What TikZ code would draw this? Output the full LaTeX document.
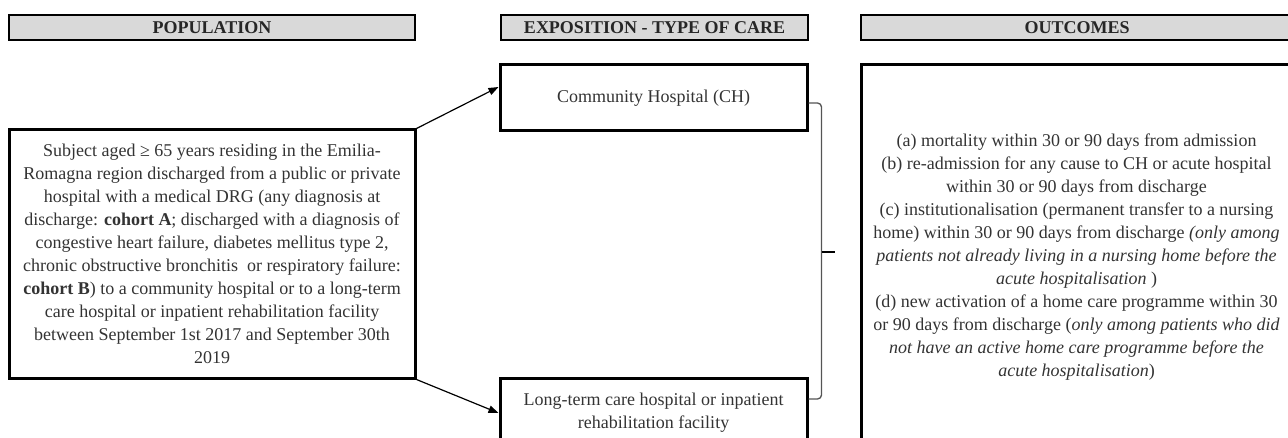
\documentclass[tikz,border=0pt]{standalone}
\usepackage{fontspec}
\setmainfont{Liberation Serif}
\usetikzlibrary{arrows.meta}
\definecolor{txtgray}{HTML}{333333}
\definecolor{hdrgray}{HTML}{D9D9D9}
\definecolor{brkgray}{HTML}{555555}
\begin{document}
\begin{tikzpicture}[x=0.75pt,y=-0.75pt,
  every node/.style={font=\fontsize{13.5}{17.25}\selectfont},
  header/.style={draw,line width=1.5pt,fill=hdrgray,minimum height=18.75pt,
    inner sep=0pt,text=black!85,font=\fontsize{13.5}{17.25}\selectfont\bfseries},
  box/.style={draw,line width=2.25pt,text=txtgray,align=center,inner sep=0pt},
  link/.style={-{Triangle[length=7.5pt,width=5.5pt]},line width=0.9pt},
  brace/.style={draw=brkgray,line width=1pt,rounded corners=3pt}]
\useasboundingbox (0,0) rectangle (1288,438);
% column headers
\node [header,minimum width=304.5pt] (hpop) at (212,27.5) {POPULATION};
\node [header,minimum width=230.25pt] (hexp) at (654.5,27.5) {EXPOSITION - TYPE OF CARE};
\node [header,minimum width=324pt] (hout) at (1077,27.5) {OUTCOMES};
% population
\node [box,minimum width=304.5pt,minimum height=186pt] (pop) at (212,254)
  {Subject aged ≥ 65 years residing in the Emilia-\\
   Romagna region discharged from a public or private\\
   hospital with a medical DRG (any diagnosis at\\
   discharge: \textbf{cohort A}; discharged with a diagnosis of\\
   congestive heart failure, diabetes mellitus type 2,\\
   chronic obstructive bronchitis\ \ or respiratory failure:\\
   \textbf{cohort B}) to a community hospital or to a long-term\\
   care hospital or inpatient rehabilitation facility\\
   between September 1st 2017 and September 30th\\
   2019};
% type of care
\node [box,minimum width=230.25pt,minimum height=49.5pt] (ch) at (653.5,98)
  {Community Hospital (CH)};
\node [box,minimum width=230.25pt,minimum height=52.5pt] (lt) at (653.5,413)
  {Long-term care hospital or inpatient\\ rehabilitation facility};
% outcomes
\node [box,minimum width=323.25pt,minimum height=288pt] (out) at (1076.5,257)
  {(a) mortality within 30 or 90 days from admission\\
   (b) re-admission for any cause to CH or acute hospital\\
   within 30 or 90 days from discharge\\
   (c) institutionalisation (permanent transfer to a nursing\\
   home) within 30 or 90 days from discharge \textit{(only among}\\
   \textit{patients not already living in a nursing home before the}\\
   \textit{acute hospitalisation} )\\
   (d) new activation of a home care programme within 30\\
   or 90 days from discharge (\textit{only among patients who did}\\
   \textit{not have an active home care programme before the}\\
   \textit{acute hospitalisation})};
% arrows
\draw [link] (pop.north east) -- ([yshift=8.25pt]ch.west);
\draw [link] (pop.south east) -- (lt.west);
% bracket
\draw [brace] ([yshift=-3.75pt]ch.east) -- ++(13,0) coordinate (brktop)
  |- ([yshift=10.5pt]lt.east);
\coordinate (brkmid) at (brktop |- 0,252);
\draw [line width=1.6pt] (brkmid) -- ++(13,0);
\end{tikzpicture}
\end{document}
